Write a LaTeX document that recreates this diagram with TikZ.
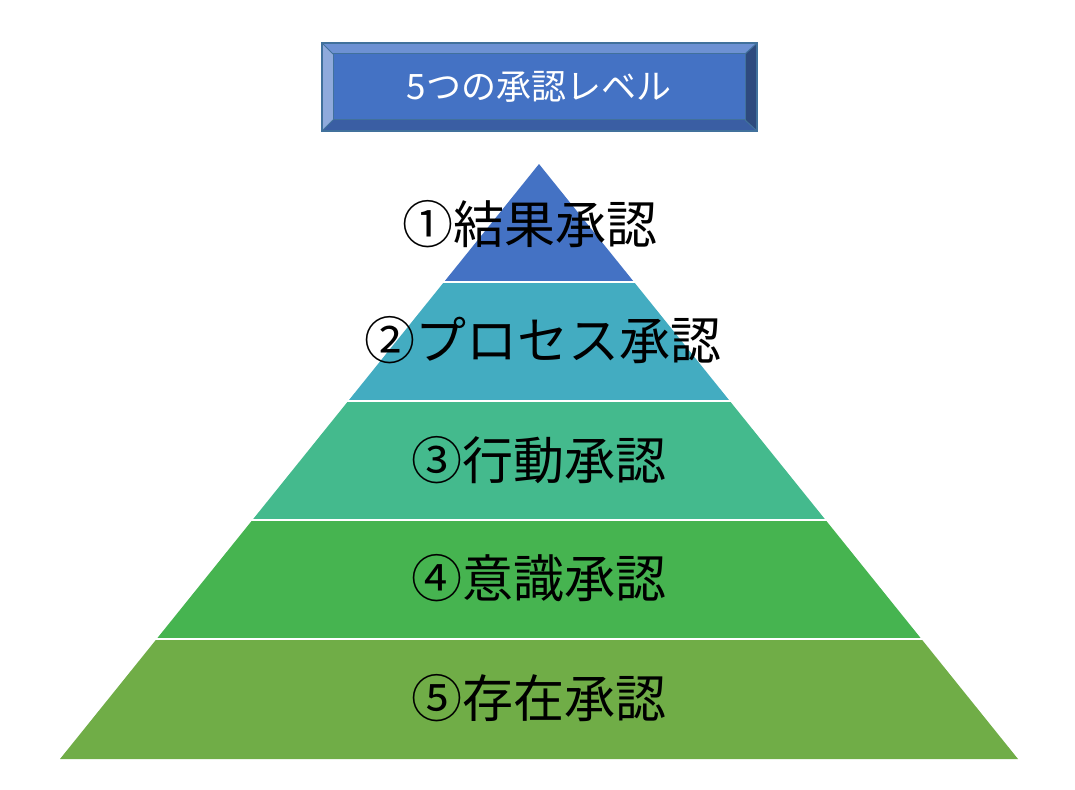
\documentclass[tikz,border=0pt]{standalone}
\usepackage{fontspec}
\setmainfont{Noto Sans CJK JP}
\definecolor{bandA}{HTML}{4472C4}
\definecolor{bandB}{HTML}{43ACC1}
\definecolor{bandC}{HTML}{44BA8D}
\definecolor{bandD}{HTML}{46B450}
\definecolor{bandE}{HTML}{70AD47}
\definecolor{tmain}{HTML}{4472C4}
\definecolor{ttop}{HTML}{6D91D3}
\definecolor{tleft}{HTML}{8FAADC}
\definecolor{tright}{HTML}{2E4A7E}
\definecolor{tbottom}{HTML}{3A5EA3}
\definecolor{tline}{HTML}{41719C}
\begin{document}
\begin{tikzpicture}[x=1pt,y=-1pt,
  lvl/.style={inner sep=0pt,font=\fontsize{51}{60}\selectfont,text=black},
  ttl/.style={inner sep=0pt,font=\fontsize{35}{42}\selectfont,text=white},
  sep/.style={white,line width=2.5pt}]
\useasboundingbox (0,0) rectangle (1075,789);
% pyramid bands
\fill[bandA] (539,164) -- (634.0,282) -- (444.0,282) -- cycle;
\fill[bandB] (444.0,282) -- (634.0,282) -- (729.8,401) -- (348.2,401) -- cycle;
\fill[bandC] (348.2,401) -- (729.8,401) -- (825.6,520) -- (252.4,520) -- cycle;
\fill[bandD] (252.4,520) -- (825.6,520) -- (921.4,639) -- (156.6,639) -- cycle;
\fill[bandE] (156.6,639) -- (921.4,639) -- (1018,759) -- (60,759) -- cycle;
\draw[sep] (430,282) -- (650,282);
\draw[sep] (335,401) -- (745,401);
\draw[sep] (240,520) -- (840,520);
\draw[sep] (140,639) -- (940,639);
% title box (bevel)
\fill[tmain] (322,43) rectangle (757,131);
\fill[ttop] (322,43) -- (757,43) -- (745,54) -- (333,54) -- cycle;
\fill[tleft] (322,43) -- (333,54) -- (333,120) -- (322,131) -- cycle;
\fill[tright] (757,43) -- (757,131) -- (745,120) -- (745,54) -- cycle;
\fill[tbottom] (322,131) -- (333,120) -- (745,120) -- (757,131) -- cycle;
\draw[tline,line width=1pt] (333,54) rectangle (745,120);
\draw[tline,line width=1pt] (322,43) -- (333,54) (757,43) -- (745,54) (322,131) -- (333,120) (757,131) -- (745,120);
\draw[tline,line width=2pt] (322,43) rectangle (757,131);
\node[ttl] (title) at (539,87) {5つの承認レベル};
% labels
\node[lvl] (l1) at (530,224) {①結果承認};
\node[lvl] (l2) at (543,340) {②プロセス承認};
\node[lvl] (l3) at (539,460) {③行動承認};
\node[lvl] (l4) at (539,578) {④意識承認};
\node[lvl] (l5) at (539,698) {⑤存在承認};
\end{tikzpicture}
\end{document}
